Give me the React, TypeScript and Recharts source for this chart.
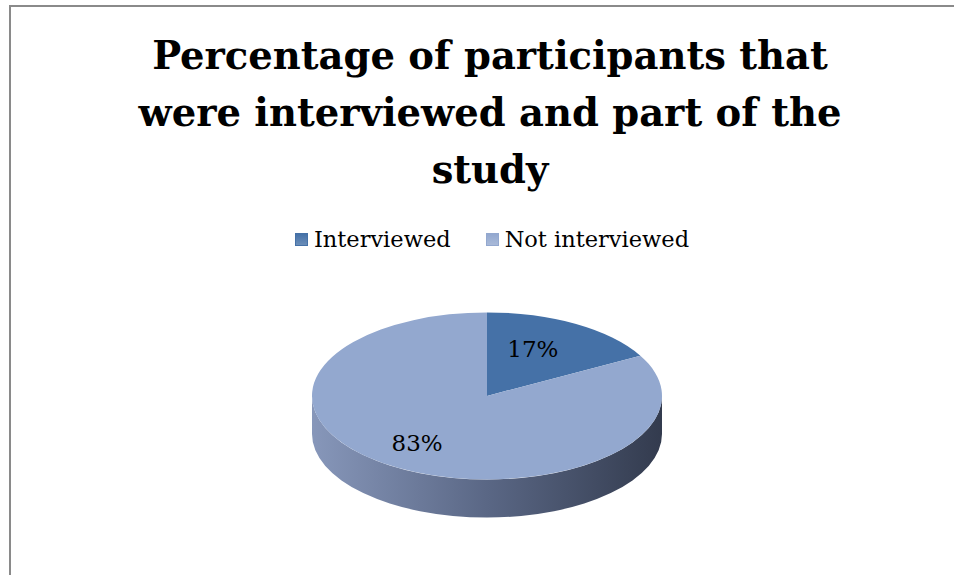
import React from "react";
import { PieChart, Pie, Cell } from "recharts";

const titleLines = [
  "Percentage of participants that",
  "were interviewed and part of the",
  "study",
];
const categories = ["Interviewed", "Not interviewed"];
const shares = [17, 83];
const colors = ["#4571a7", "#93a8cf"];

const data = categories.map((name, i) => ({
  name,
  value: shares[i],
  color: colors[i],
}));

// screen geometry of the tilted pie
const CX = 487;
const CY = 396;
const RX = 175;
const RY = 83.5;
const DEPTH = 38;
const K = RY / RX;
const BOX = 360;

const RADIAN = Math.PI / 180;

const renderLabel = (props: any) => {
  const cx = props.cx ?? BOX / 2;
  const cy = props.cy ?? BOX / 2;
  const midAngle = props.midAngle ?? 0;
  const r = (props.outerRadius ?? RX) * 0.65;
  const x = cx + r * Math.cos(-midAngle * RADIAN) - 12;
  const y = cy + r * Math.sin(-midAngle * RADIAN);
  return (
    <text
      transform={`translate(${x}, ${y}) scale(1, ${1 / K})`}
      textAnchor="middle"
      dominantBaseline="central"
      fill="#000"
      style={{ fontFamily: "'DejaVu Serif', serif", fontSize: 23 }}
    >
      {`${Math.round((props.percent ?? 0) * 100)}%`}
    </text>
  );
};

function SideBand() {
  const d =
    `M ${CX - RX} ${CY} A ${RX} ${RY} 0 0 0 ${CX + RX} ${CY} ` +
    `L ${CX + RX} ${CY + DEPTH} A ${RX} ${RY} 0 0 1 ${CX - RX} ${CY + DEPTH} Z`;
  return (
    <svg
      width={954}
      height={575}
      style={{ position: "absolute", left: 0, top: 0 }}
    >
      <defs>
        <linearGradient id="side" x1="0" y1="0" x2="1" y2="0">
          <stop offset="0%" stopColor="#8797ba" />
          <stop offset="50%" stopColor="#5a6785" />
          <stop offset="100%" stopColor="#333b4e" />
        </linearGradient>
      </defs>
      <path d={d} fill="url(#side)" />
    </svg>
  );
}

export default function App() {
  return (
    <div
      style={{
        position: "absolute",
        left: 0,
        top: 0,
        width: 954,
        height: 575,
        background: "#fff",
        overflow: "hidden",
      }}
    >
      <div
        style={{
          position: "absolute",
          left: 9,
          top: 5,
          width: 960,
          height: 600,
          borderTop: "2px solid #8a8a8a",
          borderLeft: "2px solid #8a8a8a",
        }}
      />
      <div
        style={{
          position: "absolute",
          left: 0,
          top: 27,
          width: 980,
          textAlign: "center",
          fontFamily: "'DejaVu Serif', serif",
          fontWeight: "bold",
          fontSize: 38.5,
          lineHeight: "57px",
          color: "#000",
        }}
      >
        {titleLines.map((line) => (
          <div key={line}>{line}</div>
        ))}
      </div>
      <div
        style={{
          position: "absolute",
          left: 0,
          top: 226,
          width: 984,
          display: "flex",
          justifyContent: "center",
          alignItems: "center",
          gap: 35,
          fontFamily: "'DejaVu Serif', serif",
          fontSize: 22.5,
          lineHeight: "26px",
          color: "#000",
        }}
      >
        {data.map((d) => (
          <div key={d.name} style={{ display: "flex", alignItems: "center" }}>
            <span
              style={{
                display: "inline-block",
                width: 13,
                height: 13,
                marginRight: 6,
                background: `linear-gradient(${d.color}, ${d.color}cc)`,
                border: `1px solid ${d.color}`,
                boxSizing: "border-box",
              }}
            />
            <span>{d.name}</span>
          </div>
        ))}
      </div>
      <SideBand />
      <div
        style={{
          position: "absolute",
          left: CX - BOX / 2,
          top: CY - (BOX / 2) * K,
          width: BOX,
          height: BOX,
          transform: `scaleY(${K})`,
          transformOrigin: "top left",
        }}
      >
        <PieChart width={BOX} height={BOX} margin={{ top: 0, right: 0, bottom: 0, left: 0 }}>
          <Pie
            data={data}
            dataKey="value"
            nameKey="name"
            cx={BOX / 2}
            cy={BOX / 2}
            outerRadius={RX}
            startAngle={90}
            endAngle={-270}
            label={renderLabel}
            labelLine={false}
            isAnimationActive={false}
            stroke="none"
          >
            {data.map((d) => (
              <Cell key={d.name} fill={d.color} stroke="none" />
            ))}
          </Pie>
        </PieChart>
      </div>
    </div>
  );
}
